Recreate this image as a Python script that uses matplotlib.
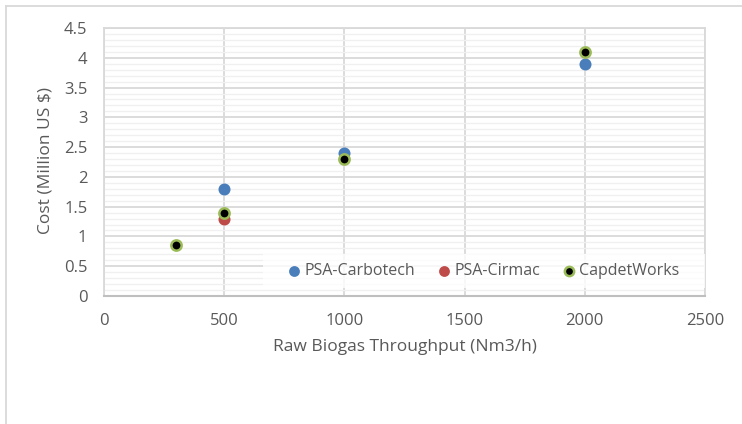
import matplotlib
matplotlib.use("Agg")
import matplotlib.pyplot as plt
from matplotlib.ticker import MultipleLocator
from matplotlib.lines import Line2D
from matplotlib.patches import Rectangle

plt.rcParams['font.family'] = ['Open Sans', 'DejaVu Sans']

carbotech_x = [500, 1000, 2000]
carbotech_y = [1.8, 2.4, 3.9]
cirmac_x = [500]
cirmac_y = [1.3]
capdet_x = [300, 500, 1000, 2000]
capdet_y = [0.85, 1.4, 2.3, 4.1]
y_ticks = [0, 0.5, 1, 1.5, 2, 2.5, 3, 3.5, 4, 4.5]
y_ticklabels = ['0', '0.5', '1', '1.5', '2', '2.5', '3', '3.5', '4', '4.5']

fig = plt.figure(figsize=(7.42, 4.24), dpi=100)
ax = fig.add_axes([104/742, 1-296/424, (705-104)/742, (296-28)/424])

gray = '#595959'
ax.scatter(carbotech_x, carbotech_y, s=75, color='#4A7EBB', zorder=3, label='PSA-Carbotech', linewidths=0)
ax.scatter(cirmac_x, cirmac_y, s=75, color='#BE4B48', zorder=3, label='PSA-Cirmac', linewidths=0)
ax.scatter(capdet_x, capdet_y, s=55, color='black', edgecolors='#9BBB59', linewidths=1.8, zorder=4, label='CapdetWorks')

ax.set_xlim(0, 2500)
ax.set_ylim(0, 4.5)
ax.xaxis.set_major_locator(MultipleLocator(500))
ax.yaxis.set_minor_locator(MultipleLocator(0.1))
ax.set_yticks(y_ticks)
ax.set_yticklabels(y_ticklabels)
ax.grid(True, which='major', color='#d9d9d9', linewidth=1.3, zorder=0)
ax.grid(True, which='minor', axis='y', color='#f0f0f0', linewidth=1.0, zorder=0)
ax.set_axisbelow(True)
ax.tick_params(which='both', length=0, colors=gray, labelsize=12)
ax.tick_params(axis='x', pad=12)
ax.tick_params(axis='y', pad=12)
for s in ['top', 'right', 'left']:
    ax.spines[s].set_color('#d9d9d9')
    ax.spines[s].set_linewidth(1.3)
ax.spines['bottom'].set_color('#bfbfbf')
ax.spines['bottom'].set_linewidth(1.5)

ax.set_xlabel('Raw Biogas Throughput (Nm3/h)', color=gray, fontsize=12.5)
ax.set_ylabel('Cost (Million US $)', color=gray, fontsize=12.5)
ax.xaxis.set_label_coords((405-104)/601, (296-339)/268)
ax.yaxis.set_label_coords((54-104)/601, 0.5 + (164-162)/268)

# semi-transparent legend background
ax.add_patch(Rectangle(((263-104)/601, (296-288)/268), (705-263)/601, 34/268,
                       transform=ax.transAxes, facecolor='white', alpha=0.8,
                       edgecolor='none', zorder=5))
leg = ax.legend(loc='center', bbox_to_anchor=((483-104)/601, (296-271)/268),
                ncol=3, frameon=False, fontsize=11.5, handlelength=1.0, handletextpad=0.15,
                borderpad=0.2, columnspacing=1.3, markerscale=0.9, labelcolor=gray)
leg.set_zorder(6)

# outer chart border (left and top visible)
fig.add_artist(Line2D([6/742, 6/742], [0, 1-6/424], color='#d9d9d9', linewidth=1.3))
fig.add_artist(Line2D([6/742, 1], [1-6/424, 1-6/424], color='#d9d9d9', linewidth=1.3))

fig.savefig('out.png', dpi=100, facecolor='white')
